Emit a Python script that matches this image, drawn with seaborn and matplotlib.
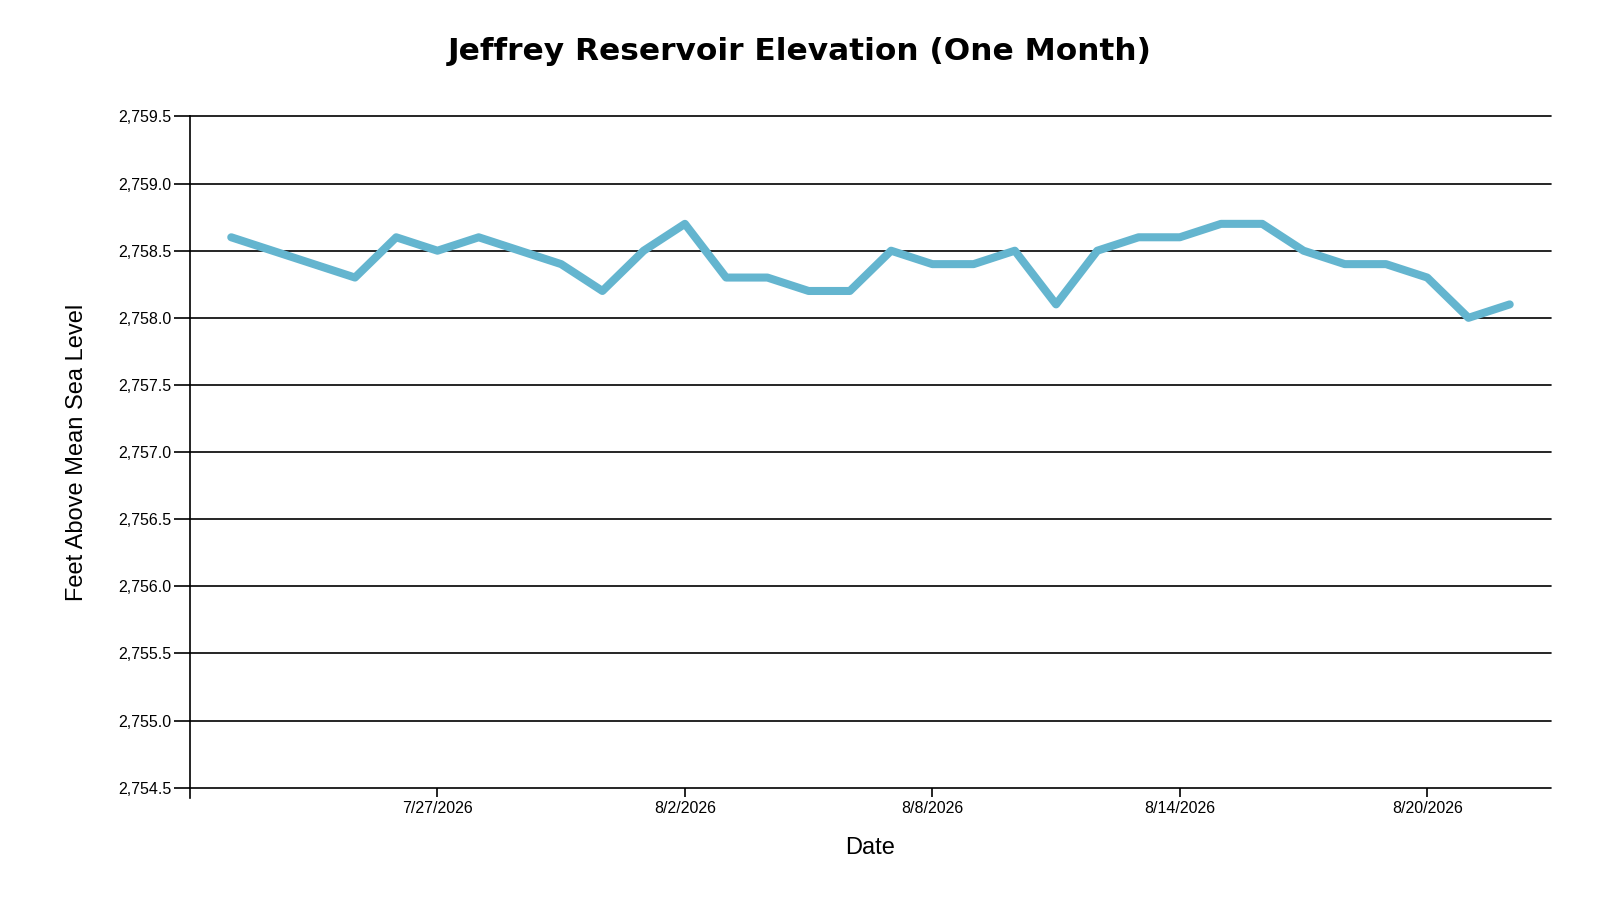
import matplotlib
matplotlib.use("Agg")
import matplotlib.pyplot as plt
import matplotlib.dates as mdates
from matplotlib.ticker import FuncFormatter, MultipleLocator
import seaborn as sns
import pandas as pd

# ---- data ----
dates = pd.date_range("2026-07-22", "2026-08-22", freq="D")
elevation = [
    2758.6, 2758.5, 2758.4, 2758.3, 2758.6, 2758.5, 2758.6, 2758.5, 2758.4, 2758.2,
    2758.5, 2758.7, 2758.3, 2758.3, 2758.2, 2758.2, 2758.5, 2758.4, 2758.4, 2758.5,
    2758.1, 2758.5, 2758.6, 2758.6, 2758.7, 2758.7, 2758.5, 2758.4, 2758.4, 2758.3,
    2758.0, 2758.1,
]
x_tick_dates = ["2026-07-27", "2026-08-02", "2026-08-08", "2026-08-14", "2026-08-20"]
x_range = ["2026-07-21", "2026-08-23"]
y_range = [2754.5, 2759.5]
title = "Jeffrey Reservoir Elevation (One Month)"
x_label = "Date"
y_label = "Feet Above Mean Sea Level"

df = pd.DataFrame({"date": dates, "elevation": elevation})

sns.set_theme(style="white")
plt.rcParams["font.family"] = ["Liberation Sans", "DejaVu Sans"]

fig = plt.figure(figsize=(16, 9), dpi=100)
ax = fig.add_axes([0.11875, 0.1248, 0.8506, 0.7458])

sns.lineplot(data=df, x="date", y="elevation", ax=ax, color="#64b5cf",
             linewidth=5.8, solid_capstyle="round", solid_joinstyle="round")

ax.set_xlim(pd.Timestamp(x_range[0]), pd.Timestamp(x_range[1]))
ax.set_ylim(*y_range)
ax.yaxis.set_major_locator(MultipleLocator(0.5))
ax.yaxis.set_major_formatter(FuncFormatter(lambda v, p: f"{v:,.1f}"))
ax.set_xticks([pd.Timestamp(d) for d in x_tick_dates])
ax.xaxis.set_major_formatter(FuncFormatter(
    lambda v, p: (lambda d: f"{d.month}/{d.day}/{d.year}")(mdates.num2date(v))))

ax.grid(axis="y", color="black", linewidth=1.2)
ax.grid(axis="x", visible=False)
for gl in ax.get_ygridlines():
    gl.set_clip_on(False)
for s in ["top", "right", "bottom"]:
    ax.spines[s].set_visible(False)
ax.spines["left"].set_color("black")
ax.spines["left"].set_linewidth(1.2)
ax.spines["left"].set_bounds(y_range[0] - 0.075, y_range[1])

ax.tick_params(axis="y", which="major", length=11.5, width=1.2, color="black",
               pad=2, labelsize=11.5, labelcolor="black", left=True)
ax.tick_params(axis="x", which="major", length=6.5, width=1.2, color="black",
               pad=3, labelsize=11.5, labelcolor="black", bottom=True)

ax.set_xlabel("")
ax.set_ylabel("")
fig.text(870 / 1600, 1 - 848 / 900, x_label, ha="center", va="center",
         fontsize=17, color="black")
fig.text(77 / 1600, 1 - 452 / 900, y_label, ha="center", va="center",
         rotation=90, fontsize=17, color="black")
fig.text(0.5, 1 - 52 / 900, title, ha="center", va="center",
         fontsize=22.5, fontweight="bold", color="black",
         family=["DejaVu Sans"])

fig.savefig("out.png", dpi=100)
